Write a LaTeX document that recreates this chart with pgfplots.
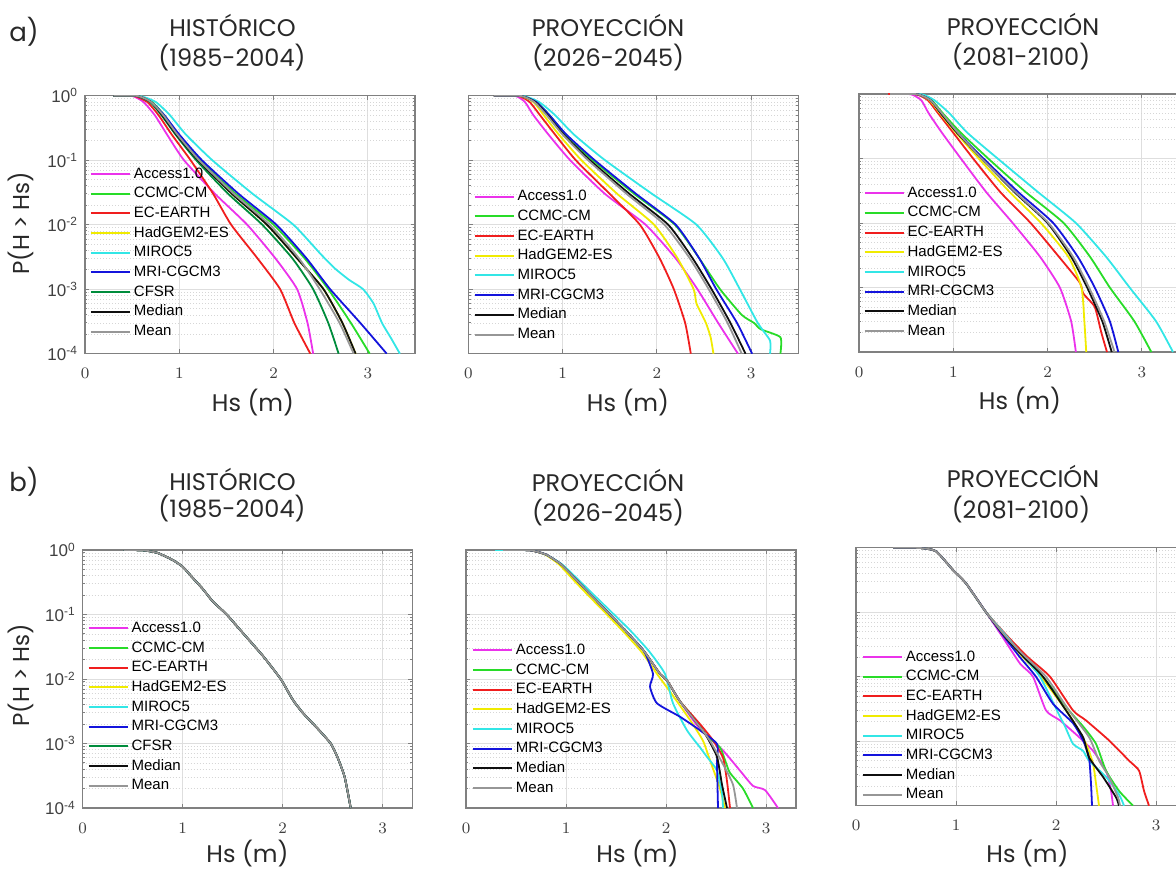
\documentclass[border=0pt]{standalone}
\usepackage{fontspec}
\setmainfont{Liberation Sans}
\newfontfamily\gothic{Poppins}
\usepackage{pgfplots}
\usepackage{pgfplotstable}
\pgfplotsset{compat=1.18}
\definecolor{cM}{RGB}{235,50,235}
\definecolor{cG}{RGB}{40,220,40}
\definecolor{cR}{RGB}{240,30,30}
\definecolor{cY}{RGB}{240,235,0}
\definecolor{cC}{RGB}{50,230,230}
\definecolor{cB}{RGB}{20,20,220}
\definecolor{cD}{RGB}{0,140,60}
\definecolor{cK}{RGB}{15,15,15}
\definecolor{cGr}{RGB}{150,150,150}
\definecolor{ttl}{RGB}{40,40,40}
\pgfplotsset{
  scale only axis, width=165pt, height=129pt,
  grid=both,
  major grid style={draw=black!13, line width=0.4pt},
  minor grid style={draw=black!16, dash pattern=on 0.5pt off 1pt, line width=0.35pt},
  axis line style={draw=black!50, line width=0.6pt},
  tick style={draw=black!50, line width=0.5pt},
  major tick length=2.2pt, minor tick length=1.2pt,
  tick label style={font=\fontsize{8.5}{9}\selectfont, text=black!75},
  xticklabel style={yshift=-3.9pt},
  every axis plot/.append style={line width=0.9pt, mark=none, smooth, tension=0.35},
  legend cell align=left,
  legend image code/.code={\draw[#1, line width=1pt] (0pt,0pt) -- (19.5pt,0pt);},
  legend style={draw=none, fill=none, inner sep=0pt, outer sep=0pt,
    font=\fontsize{7.5}{8}\selectfont, row sep=0pt, anchor=north west,
    nodes={inner sep=1.5pt, text height=5.5pt, text depth=1.35pt}},
}
\pgfplotstableread{
x y
0.41 1
0.6 0.99
0.75 0.9
0.9 0.7
1.0 0.55
1.1 0.37
1.2 0.25
1.3 0.16
1.44 0.1
1.6 0.052
1.8 0.023
1.98 0.01
2.1 0.0048
2.2 0.003
2.35 0.0017
2.48 0.001
2.55 0.0006
2.62 0.0003
2.68 0.0001
}\Bone
\begin{document}
\begin{tikzpicture}
% ---------------- Row a ----------------
\begin{axis}[ymode=log, ymin=1e-4, ymax=1, xmin=0, xmax=3.5,
  xtick={0,1,2,3}, ytick={1e-4,1e-3,1e-2,1e-1,1},
  yticklabels={10\textsuperscript{-4},10\textsuperscript{-3},10\textsuperscript{-2},10\textsuperscript{-1},10\textsuperscript{0}},
  at={(42.5pt,386.65pt)}, anchor=north west,
  legend style={at={(0.015,0.735)}}]
\addplot[cM] coordinates {(0.3,1)(0.5,0.99)(0.62,0.8)(0.74,0.5)(0.87,0.25)(1.05,0.1)(1.38,0.03)(1.72,0.01)(2.02,0.003)(2.25,0.001)(2.36,0.0003)(2.42,0.0001)};
\addplot[cG] coordinates {(0.3,1)(0.56,0.99)(0.71,0.8)(0.84,0.5)(0.99,0.25)(1.22,0.1)(1.6,0.03)(2.0,0.01)(2.33,0.003)(2.58,0.001)(2.82,0.0003)(3.02,0.0001)};
\addplot[cR] coordinates {(0.3,1)(0.52,0.99)(0.66,0.8)(0.78,0.5)(0.92,0.25)(1.12,0.1)(1.36,0.03)(1.55,0.01)(1.83,0.003)(2.07,0.001)(2.22,0.0003)(2.39,0.0001)};
\addplot[cY] coordinates {(0.3,1)(0.56,0.99)(0.7,0.8)(0.82,0.5)(0.97,0.25)(1.2,0.1)(1.56,0.03)(1.93,0.01)(2.25,0.003)(2.53,0.001)(2.73,0.0003)(2.87,0.0001)};
\addplot[cC] coordinates {(0.3,1)(0.58,0.99)(0.75,0.8)(0.9,0.5)(1.07,0.25)(1.35,0.1)(1.78,0.03)(2.21,0.01)(2.5,0.0035)(2.65,0.0021)(2.8,0.0014)(2.95,0.001)(3.06,0.0006)(3.15,0.0003)(3.25,0.00017)(3.34,0.0001)};
\addplot[cB] coordinates {(0.3,1)(0.55,0.99)(0.7,0.8)(0.84,0.5)(1.0,0.25)(1.24,0.1)(1.63,0.03)(2.03,0.01)(2.35,0.003)(2.6,0.001)(2.92,0.0003)(3.2,0.0001)};
\addplot[cD] coordinates {(0.3,1)(0.55,0.99)(0.69,0.8)(0.81,0.5)(0.96,0.25)(1.18,0.1)(1.52,0.03)(1.88,0.01)(2.2,0.003)(2.42,0.001)(2.58,0.0003)(2.69,0.0001)};
\addplot[cK] coordinates {(0.3,1)(0.56,0.99)(0.7,0.8)(0.82,0.5)(0.97,0.25)(1.2,0.1)(1.56,0.03)(1.93,0.01)(2.25,0.003)(2.53,0.001)(2.73,0.0003)(2.87,0.0001)};
\addplot[cGr] coordinates {(0.3,1)(0.56,0.99)(0.7,0.8)(0.83,0.5)(0.98,0.25)(1.21,0.1)(1.58,0.03)(1.96,0.01)(2.27,0.003)(2.49,0.001)(2.7,0.0003)(2.85,0.0001)};
\legend{Access1.0,CCMC-CM,EC-EARTH,HadGEM2-ES,MIROC5,MRI-CGCM3,CFSR,Median,Mean}
\end{axis}
\begin{axis}[ymode=log, ymin=1e-4, ymax=1, xmin=0, xmax=3.5,
  xtick={0,1,2,3}, ytick={1e-4,1e-3,1e-2,1e-1,1}, yticklabels={},
  at={(234.15pt,386.65pt)}, anchor=north west,
  legend style={at={(0.016,0.647)}}]
\addplot[cM] coordinates {(0.27,1)(0.5,0.99)(0.6,0.8)(0.69,0.5)(0.85,0.25)(1.08,0.1)(1.45,0.03)(1.88,0.01)(2.2,0.003)(2.43,0.001)(2.65,0.0003)(2.86,0.0001)};
\addplot[cG] coordinates {(0.27,1)(0.57,0.99)(0.72,0.8)(0.86,0.5)(1.03,0.25)(1.32,0.1)(1.76,0.03)(2.19,0.01)(2.45,0.003)(2.67,0.001)(2.9,0.0004)(3.03,0.0003)(3.1,0.00024)(3.31,0.00018)(3.31,0.0001)};
\addplot[cR] coordinates {(0.27,1)(0.53,0.99)(0.65,0.8)(0.76,0.5)(0.92,0.25)(1.14,0.1)(1.5,0.03)(1.82,0.01)(2.03,0.003)(2.18,0.001)(2.3,0.0003)(2.36,0.0001)};
\addplot[cY] coordinates {(0.27,1)(0.55,0.99)(0.69,0.8)(0.8,0.5)(0.96,0.25)(1.2,0.1)(1.58,0.03)(1.97,0.01)(2.22,0.003)(2.39,0.001)(2.42,0.0006)(2.52,0.0003)(2.57,0.00018)(2.6,0.0001)};
\addplot[cC] coordinates {(0.27,1)(0.58,0.99)(0.75,0.8)(0.92,0.5)(1.12,0.25)(1.45,0.1)(1.95,0.03)(2.42,0.01)(2.7,0.003)(2.88,0.001)(3.07,0.0003)(3.2,0.00016)(3.2,0.0001)};
\addplot[cB] coordinates {(0.27,1)(0.56,0.99)(0.72,0.8)(0.86,0.5)(1.04,0.25)(1.34,0.1)(1.78,0.03)(2.2,0.01)(2.45,0.003)(2.63,0.001)(2.85,0.0003)(3.01,0.0001)};
\addplot[cK] coordinates {(0.27,1)(0.56,0.99)(0.71,0.8)(0.84,0.5)(1.01,0.25)(1.29,0.1)(1.71,0.03)(2.12,0.01)(2.38,0.003)(2.58,0.001)(2.78,0.0003)(2.94,0.0001)};
\addplot[cGr] coordinates {(0.27,1)(0.56,0.99)(0.7,0.8)(0.83,0.5)(1.0,0.25)(1.27,0.1)(1.68,0.03)(2.08,0.01)(2.35,0.003)(2.55,0.001)(2.75,0.0003)(2.9,0.0001)};
\legend{Access1.0,CCMC-CM,EC-EARTH,HadGEM2-ES,MIROC5,MRI-CGCM3,Median,Mean}
\end{axis}
\begin{axis}[ymode=log, ymin=1e-4, ymax=1, xmin=0, xmax=3.5,
  xtick={0,1,2,3}, ytick={1e-4,1e-3,1e-2,1e-1,1}, yticklabels={},
  at={(429.5pt,387.5pt)}, anchor=north west,
  legend style={at={(0.014,0.654)}}]
\addplot[cM] coordinates {(0.33,1)(0.55,0.99)(0.66,0.8)(0.74,0.5)(0.88,0.25)(1.08,0.1)(1.35,0.03)(1.63,0.01)(1.92,0.003)(2.13,0.001)(2.25,0.0003)(2.3,0.0001)};
\addplot[cG] coordinates {(0.33,1)(0.63,0.99)(0.77,0.8)(0.89,0.5)(1.08,0.25)(1.37,0.1)(1.77,0.03)(2.17,0.01)(2.45,0.003)(2.66,0.001)(2.92,0.0003)(3.1,0.0001)};
\addplot[cR] coordinates {(0.31,1)(0.6,0.99)(0.73,0.8)(0.84,0.5)(1.0,0.25)(1.21,0.1)(1.5,0.03)(1.82,0.01)(2.12,0.003)(2.34,0.0012)(2.38,0.0008)(2.5,0.0005)(2.57,0.0002)(2.63,0.0001)};
\addplot[cY] coordinates {(0.38,1)(0.62,0.99)(0.75,0.8)(0.86,0.5)(1.03,0.25)(1.27,0.1)(1.6,0.03)(1.93,0.01)(2.22,0.003)(2.36,0.001)(2.39,0.0003)(2.41,0.0001)};
\addplot[cC] coordinates {(0.33,1)(0.66,0.99)(0.8,0.8)(0.96,0.5)(1.15,0.25)(1.47,0.1)(1.9,0.03)(2.3,0.01)(2.62,0.003)(2.87,0.001)(3.15,0.0003)(3.33,0.0001)};
\addplot[cB] coordinates {(0.33,1)(0.62,0.99)(0.76,0.8)(0.87,0.5)(1.05,0.25)(1.32,0.1)(1.69,0.03)(2.06,0.01)(2.32,0.003)(2.5,0.001)(2.66,0.0003)(2.75,0.0001)};
\addplot[cK] coordinates {(0.33,1)(0.62,0.99)(0.76,0.8)(0.87,0.5)(1.04,0.25)(1.3,0.1)(1.65,0.03)(2.0,0.01)(2.25,0.003)(2.42,0.001)(2.58,0.0003)(2.68,0.0001)};
\addplot[cGr] coordinates {(0.33,1)(0.62,0.99)(0.76,0.8)(0.88,0.5)(1.05,0.25)(1.3,0.1)(1.66,0.03)(2.01,0.01)(2.27,0.003)(2.44,0.001)(2.6,0.0003)(2.71,0.0001)};
\legend{Access1.0,CCMC-CM,EC-EARTH,HadGEM2-ES,MIROC5,MRI-CGCM3,Median,Mean}
\end{axis}
% ---------------- Row b ----------------
\begin{axis}[ymode=log, ymin=1e-4, ymax=1, xmin=0, xmax=3.3,
  xtick={0,1,2,3}, ytick={1e-4,1e-3,1e-2,1e-1,1},
  yticklabels={10\textsuperscript{-4},10\textsuperscript{-3},10\textsuperscript{-2},10\textsuperscript{-1},10\textsuperscript{0}},
  at={(41.35pt,159.5pt)}, anchor=north west,
  legend style={at={(0.015,0.735)}}]
\addplot[cM] table {\Bone};
\addplot[cG] table {\Bone};
\addplot[cR] table {\Bone};
\addplot[cY] table {\Bone};
\addplot[cC] table {\Bone};
\addplot[cB] table {\Bone};
\addplot[cD] table {\Bone};
\addplot[cK] table {\Bone};
\addplot[cGr] table {\Bone};
\legend{Access1.0,CCMC-CM,EC-EARTH,HadGEM2-ES,MIROC5,MRI-CGCM3,CFSR,Median,Mean}
\end{axis}
\begin{axis}[ymode=log, ymin=1e-4, ymax=1, xmin=0, xmax=3.3,
  xtick={0,1,2,3}, ytick={1e-4,1e-3,1e-2,1e-1,1}, yticklabels={},
  at={(233pt,159.5pt)}, anchor=north west,
  legend style={at={(0.018,0.650)}}]
\addplot[cM] coordinates {(0.37,1)(0.64,0.99)(0.8,0.85)(0.95,0.6)(1.1,0.35)(1.25,0.2)(1.44,0.1)(1.6,0.055)(1.78,0.027)(1.94,0.012)(2.01,0.0095)(2.14,0.0045)(2.3,0.002)(2.41,0.0013)(2.57,0.00078)(2.74,0.00038)(2.87,0.00022)(2.99,0.00019)(3.12,0.0001)};
\addplot[cG] coordinates {(0.37,1)(0.64,0.99)(0.8,0.85)(0.95,0.6)(1.1,0.35)(1.25,0.2)(1.44,0.1)(1.6,0.055)(1.78,0.027)(1.94,0.012)(2.01,0.0095)(2.14,0.0045)(2.27,0.0026)(2.41,0.0013)(2.54,0.00087)(2.6,0.0005)(2.64,0.00035)(2.77,0.0002)(2.87,0.0001)};
\addplot[cR] coordinates {(0.37,1)(0.64,0.99)(0.8,0.85)(0.95,0.6)(1.1,0.35)(1.25,0.2)(1.44,0.1)(1.6,0.055)(1.78,0.027)(1.94,0.012)(2.01,0.0095)(2.14,0.0045)(2.34,0.002)(2.47,0.00112)(2.57,0.0006)(2.61,0.00026)(2.64,0.0001)};
\addplot[cY] coordinates {(0.37,1)(0.64,0.99)(0.79,0.85)(0.93,0.6)(1.07,0.35)(1.22,0.2)(1.41,0.1)(1.57,0.055)(1.75,0.027)(1.91,0.012)(2.07,0.0055)(2.25,0.0022)(2.37,0.0011)(2.44,0.00055)(2.54,0.0002)(2.59,0.0001)};
\addplot[cC] coordinates {(0.29,1)(0.64,0.99)(0.8,0.85)(0.96,0.6)(1.12,0.35)(1.28,0.2)(1.48,0.1)(1.65,0.055)(1.83,0.027)(1.99,0.012)(2.07,0.0042)(2.21,0.0016)(2.34,0.00087)(2.41,0.00062)(2.51,0.00038)(2.56,0.00017)(2.57,0.0001)};
\addplot[cB] coordinates {(0.37,1)(0.64,0.99)(0.8,0.85)(0.95,0.6)(1.1,0.35)(1.25,0.2)(1.44,0.1)(1.6,0.055)(1.78,0.027)(1.87,0.012)(1.84,0.0076)(1.91,0.0042)(2.14,0.0026)(2.34,0.0016)(2.51,0.00098)(2.51,0.00048)(2.52,0.0001)};
\addplot[cK] coordinates {(0.37,1)(0.64,0.99)(0.8,0.85)(0.95,0.6)(1.1,0.35)(1.25,0.2)(1.44,0.1)(1.6,0.055)(1.78,0.027)(1.94,0.012)(2.01,0.0095)(2.14,0.0045)(2.34,0.0018)(2.41,0.00126)(2.51,0.00062)(2.56,0.00023)(2.61,0.0001)};
\addplot[cGr] coordinates {(0.37,1)(0.64,0.99)(0.8,0.85)(0.95,0.6)(1.1,0.35)(1.25,0.2)(1.44,0.1)(1.6,0.055)(1.78,0.027)(1.94,0.012)(2.01,0.0095)(2.14,0.0045)(2.34,0.0018)(2.44,0.0011)(2.57,0.00048)(2.67,0.00023)(2.71,0.0001)};
\legend{Access1.0,CCMC-CM,EC-EARTH,HadGEM2-ES,MIROC5,MRI-CGCM3,Median,Mean}
\end{axis}
\begin{axis}[ymode=log, ymin=1e-4, ymax=1, xmin=0, xmax=3.3,
  xtick={0,1,2,3}, ytick={1e-4,1e-3,1e-2,1e-1,1}, yticklabels={},
  at={(428pt,160.65pt)}, anchor=north west,
  legend style={at={(0.018,0.615)}}]
\addplot[cM] coordinates {(0.37,1)(0.64,0.99)(0.8,0.88)(0.97,0.45)(1.1,0.28)(1.3,0.1)(1.45,0.045)(1.64,0.016)(1.77,0.01)(1.9,0.003)(2.04,0.0021)(2.23,0.00116)(2.37,0.00071)(2.5,0.00035)(2.55,0.00017)(2.57,0.0001)};
\addplot[cG] coordinates {(0.37,1)(0.64,0.99)(0.8,0.88)(0.97,0.45)(1.1,0.28)(1.3,0.1)(1.52,0.04)(1.7,0.02)(1.9,0.0087)(2.13,0.003)(2.27,0.0017)(2.4,0.00091)(2.5,0.00035)(2.63,0.00017)(2.77,0.0001)};
\addplot[cR] coordinates {(0.37,1)(0.64,0.99)(0.8,0.88)(0.97,0.45)(1.1,0.28)(1.3,0.1)(1.53,0.04)(1.72,0.02)(1.94,0.01)(2.17,0.003)(2.3,0.0021)(2.53,0.00103)(2.73,0.0005)(2.83,0.00035)(2.88,0.00017)(2.93,0.0001)};
\addplot[cY] coordinates {(0.37,1)(0.64,0.99)(0.8,0.88)(0.97,0.45)(1.1,0.28)(1.3,0.1)(1.5,0.04)(1.67,0.02)(1.85,0.01)(2.13,0.0026)(2.3,0.00091)(2.37,0.00045)(2.4,0.00022)(2.43,0.0001)};
\addplot[cC] coordinates {(0.37,1)(0.64,0.99)(0.8,0.88)(0.97,0.45)(1.1,0.28)(1.3,0.1)(1.52,0.04)(1.68,0.02)(1.84,0.01)(2.04,0.0024)(2.09,0.0017)(2.17,0.00091)(2.27,0.00071)(2.33,0.0005)(2.5,0.00028)(2.63,0.00015)(2.68,0.0001)};
\addplot[cB] coordinates {(0.37,1)(0.64,0.99)(0.8,0.88)(0.97,0.45)(1.1,0.28)(1.3,0.1)(1.49,0.04)(1.64,0.02)(1.8,0.01)(1.97,0.0038)(2.17,0.0019)(2.27,0.00103)(2.33,0.00056)(2.35,0.00022)(2.36,0.0001)};
\addplot[cK] coordinates {(0.37,1)(0.64,0.99)(0.8,0.88)(0.97,0.45)(1.1,0.28)(1.3,0.1)(1.5,0.04)(1.68,0.02)(1.87,0.01)(2.1,0.003)(2.27,0.00116)(2.33,0.00056)(2.47,0.00028)(2.6,0.000135)(2.63,0.0001)};
\addplot[cGr] coordinates {(0.37,1)(0.64,0.99)(0.8,0.88)(0.97,0.45)(1.1,0.28)(1.3,0.1)(1.51,0.04)(1.7,0.02)(1.9,0.01)(2.13,0.003)(2.33,0.00116)(2.43,0.0005)(2.53,0.00028)(2.62,0.000135)(2.64,0.0001)};
\legend{Access1.0,CCMC-CM,EC-EARTH,HadGEM2-ES,MIROC5,MRI-CGCM3,Median,Mean}
\end{axis}
% ---------------- Texts ----------------
\begin{scope}[every node/.style={text=ttl, inner sep=0pt}]
\node[font=\gothic\fontsize{13}{14}\selectfont] at (12pt,418.5pt) {a)};
\node[font=\gothic\fontsize{13}{14}\selectfont] at (12pt,193.5pt) {b)};
\node[font=\gothic\fontsize{12}{13}\selectfont, anchor=base] at (116.25pt,416.15pt) {HISTÓRICO};
\node[font=\gothic\fontsize{12}{13}\selectfont, anchor=base] at (116pt,401.15pt) {(1985-2004)};
\node[font=\gothic\fontsize{12}{13}\selectfont, anchor=base] at (304pt,416.15pt) {PROYECCIÓN};
\node[font=\gothic\fontsize{12}{13}\selectfont, anchor=base] at (304pt,401.15pt) {(2026-2045)};
\node[font=\gothic\fontsize{12}{13}\selectfont, anchor=base] at (511.5pt,416.5pt) {PROYECCIÓN};
\node[font=\gothic\fontsize{12}{13}\selectfont, anchor=base] at (510.5pt,401.5pt) {(2081-2100)};
\node[font=\gothic\fontsize{12}{13}\selectfont, anchor=base] at (116.25pt,189.5pt) {HISTÓRICO};
\node[font=\gothic\fontsize{12}{13}\selectfont, anchor=base] at (116pt,175.65pt) {(1985-2004)};
\node[font=\gothic\fontsize{12}{13}\selectfont, anchor=base] at (304pt,189pt) {PROYECCIÓN};
\node[font=\gothic\fontsize{12}{13}\selectfont, anchor=base] at (304pt,174pt) {(2026-2045)};
\node[font=\gothic\fontsize{12}{13}\selectfont, anchor=base] at (511.5pt,191pt) {PROYECCIÓN};
\node[font=\gothic\fontsize{12}{13}\selectfont, anchor=base] at (510.5pt,175.5pt) {(2081-2100)};
\node[font=\gothic\fontsize{11.5}{12}\selectfont, rotate=90] at (10.5pt,323pt) {P(H > Hs)};
\node[font=\gothic\fontsize{11.5}{12}\selectfont, rotate=90] at (10.5pt,97pt) {P(H > Hs)};
\node[font=\gothic\fontsize{12}{13}\selectfont] at (126.5pt,233pt) {Hs (m)};
\node[font=\gothic\fontsize{12}{13}\selectfont] at (314pt,233pt) {Hs (m)};
\node[font=\gothic\fontsize{12}{13}\selectfont] at (510pt,234pt) {Hs (m)};
\node[font=\gothic\fontsize{12}{13}\selectfont] at (123.75pt,7.5pt) {Hs (m)};
\node[font=\gothic\fontsize{12}{13}\selectfont] at (318.75pt,7.5pt) {Hs (m)};
\node[font=\gothic\fontsize{12}{13}\selectfont] at (513.75pt,7.5pt) {Hs (m)};
\end{scope}
\pgfresetboundingbox
\path[use as bounding box] (0pt,0pt) rectangle (588pt,434.5pt);
\end{tikzpicture}
\end{document}
